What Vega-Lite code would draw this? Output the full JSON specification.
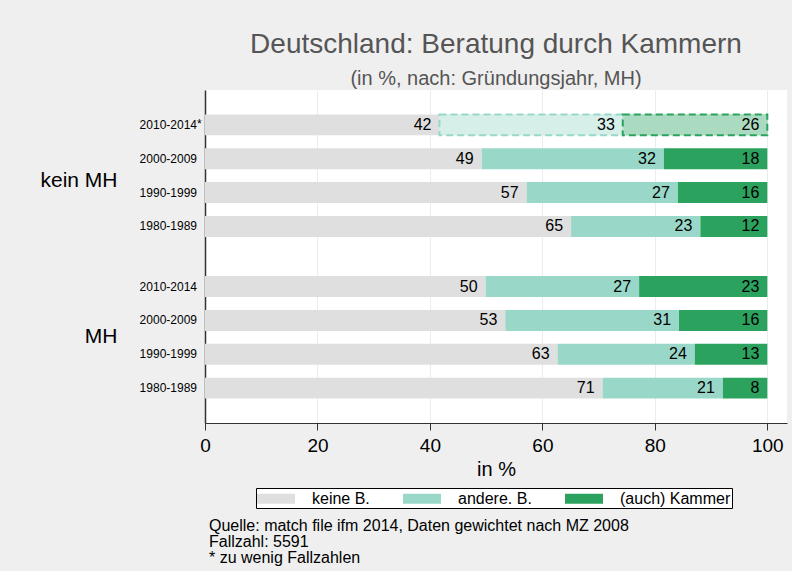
{
  "$schema": "https://vega.github.io/schema/vega-lite/v6.json",
  "background": "#efefef",
  "padding": {"left": 39, "top": 31, "right": 5, "bottom": 5},
  "title": {
    "text": ["Quelle: match file ifm 2014, Daten gewichtet nach MZ 2008", "Fallzahl: 5591", "* zu wenig Fallzahlen"],
    "orient": "bottom",
    "anchor": "start",
    "frame": "group",
    "font": "Liberation Sans",
    "fontSize": 16,
    "fontWeight": "normal",
    "color": "black",
    "lineHeight": 16,
    "offset": 9,
    "dx": 4
  },
  "vconcat": [
    {
      "width": 582,
      "height": 333,
      "title": {
        "text": "Deutschland: Beratung durch Kammern",
        "subtitle": "(in %, nach: Gründungsjahr, MH)",
        "anchor": "middle",
        "font": "Liberation Sans",
        "subtitleFont": "Liberation Sans",
        "fontSize": 28,
        "subtitleFontSize": 20,
        "fontWeight": "normal",
        "color": "#555555",
        "subtitleColor": "#555555",
        "subtitlePadding": 10,
        "offset": 1
      },
      "data": {
        "values": [
          {"group": "kein MH", "period": "2010-2014", "note": "*", "cat": "keine B.", "value": 41.7},
          {"group": "kein MH", "period": "2010-2014", "note": "*", "cat": "andere. B.", "value": 32.6},
          {"group": "kein MH", "period": "2010-2014", "note": "*", "cat": "(auch) Kammer", "value": 25.7},
          {"group": "kein MH", "period": "2000-2009", "note": "", "cat": "keine B.", "value": 49.2},
          {"group": "kein MH", "period": "2000-2009", "note": "", "cat": "andere. B.", "value": 32.4},
          {"group": "kein MH", "period": "2000-2009", "note": "", "cat": "(auch) Kammer", "value": 18.4},
          {"group": "kein MH", "period": "1990-1999", "note": "", "cat": "keine B.", "value": 57.2},
          {"group": "kein MH", "period": "1990-1999", "note": "", "cat": "andere. B.", "value": 26.9},
          {"group": "kein MH", "period": "1990-1999", "note": "", "cat": "(auch) Kammer", "value": 15.9},
          {"group": "kein MH", "period": "1980-1989", "note": "", "cat": "keine B.", "value": 65.1},
          {"group": "kein MH", "period": "1980-1989", "note": "", "cat": "andere. B.", "value": 23.0},
          {"group": "kein MH", "period": "1980-1989", "note": "", "cat": "(auch) Kammer", "value": 11.9},
          {"group": "MH", "period": "2010-2014", "note": "", "cat": "keine B.", "value": 49.9},
          {"group": "MH", "period": "2010-2014", "note": "", "cat": "andere. B.", "value": 27.3},
          {"group": "MH", "period": "2010-2014", "note": "", "cat": "(auch) Kammer", "value": 22.8},
          {"group": "MH", "period": "2000-2009", "note": "", "cat": "keine B.", "value": 53.4},
          {"group": "MH", "period": "2000-2009", "note": "", "cat": "andere. B.", "value": 30.9},
          {"group": "MH", "period": "2000-2009", "note": "", "cat": "(auch) Kammer", "value": 15.7},
          {"group": "MH", "period": "1990-1999", "note": "", "cat": "keine B.", "value": 62.7},
          {"group": "MH", "period": "1990-1999", "note": "", "cat": "andere. B.", "value": 24.4},
          {"group": "MH", "period": "1990-1999", "note": "", "cat": "(auch) Kammer", "value": 12.9},
          {"group": "MH", "period": "1980-1989", "note": "", "cat": "keine B.", "value": 70.7},
          {"group": "MH", "period": "1980-1989", "note": "", "cat": "andere. B.", "value": 21.4},
          {"group": "MH", "period": "1980-1989", "note": "", "cat": "(auch) Kammer", "value": 7.9}
        ]
      },
      "transform": [
        {"stack": "value", "groupby": ["group", "period"], "sort": [{"field": "cat", "order": "descending"}], "as": ["v0", "v1"]}
      ],
      "layer": [
        {
          "mark": {"type": "bar"},
          "encoding": {
            "y": {
              "field": "group", "type": "nominal",
              "scale": {"domain": ["kein MH", "MH"], "paddingInner": 0.163, "paddingOuter": 0.111, "align": 0.5},
              "axis": {
                "title": null, "domain": true, "domainColor": "#333333", "domainWidth": 1.5,
                "ticks": false, "grid": false, "labelFontSize": 21, "labelPadding": 88,
                "labelOffset": {"condition": {"test": "datum.value == 'kein MH'", "value": 5}, "value": 0},
                "labelColor": "black", "labelFont": "Liberation Sans", "labelAngle": 0
              }
            },
            "yOffset": {
              "field": "period", "type": "nominal",
              "scale": {"domain": ["2010-2014", "2000-2009", "1990-1999", "1980-1989"], "paddingInner": 0.38, "paddingOuter": 0.19}
            },
            "x": {
              "field": "v0", "type": "quantitative",
              "scale": {"domain": [0, 103.5], "nice": false},
              "axis": {
                "title": "in %", "values": [0, 20, 40, 60, 80, 100],
                "grid": true, "gridColor": "#e5eef0", "gridWidth": 1,
                "domainColor": "#333333", "domainWidth": 1.2, "tickColor": "#333333", "tickSize": 7,
                "labelFontSize": 19, "labelColor": "black", "labelPadding": 6, "labelFont": "Liberation Sans",
                "titleFontSize": 20, "titleFontWeight": "normal", "titleColor": "black", "titlePadding": 4, "titleFont": "Liberation Sans",
                "labelFlush": false
              }
            },
            "x2": {"field": "v1"},
            "color": {
              "field": "cat", "type": "nominal",
              "scale": {"domain": ["keine B.", "andere. B.", "(auch) Kammer"], "range": ["#dfdfdf", "#99d8c9", "#2ca25f"]},
              "legend": {
                "title": null, "orient": "none", "direction": "horizontal",
                "legendX": 51, "legendY": 398,
                "fillColor": "white", "strokeColor": "black", "padding": 1,
                "symbolType": "M-1,-0.53H3V0.53H-1Z", "symbolSize": 361, "symbolStrokeWidth": 0,
                "labelFontSize": 16, "labelColor": "black", "labelFont": "Liberation Sans", "labelOffset": 36,
                "columnPadding": 33
              }
            }
          }
        },
        {
          "transform": [{"filter": "datum.note == '*' && datum.cat != 'keine B.'"}],
          "mark": {"type": "bar", "fill": "white", "fillOpacity": 0.6, "strokeWidth": 2, "strokeDash": [7, 4]},
          "encoding": {
            "y": {"field": "group", "type": "nominal"},
            "yOffset": {"field": "period", "type": "nominal"},
            "x": {"field": "v0", "type": "quantitative"},
            "x2": {"field": "v1"},
            "stroke": {
              "field": "cat", "type": "nominal",
              "scale": {"domain": ["keine B.", "andere. B.", "(auch) Kammer"], "range": ["#dfdfdf", "#99d8c9", "#2ca25f"]},
              "legend": null
            }
          }
        },
        {
          "mark": {"type": "text", "align": "right", "baseline": "middle", "dx": -8, "fontSize": 16, "font": "Liberation Sans", "color": "black"},
          "encoding": {
            "y": {"field": "group", "type": "nominal"},
            "yOffset": {"field": "period", "type": "nominal"},
            "x": {"field": "v1", "type": "quantitative"},
            "text": {"field": "value", "type": "quantitative", "format": ".0f"}
          }
        },
        {
          "transform": [{"filter": "datum.cat == 'keine B.'"}],
          "mark": {"type": "text", "align": "right", "baseline": "middle", "dx": -8, "fontSize": 12, "font": "Liberation Sans", "color": "black"},
          "encoding": {
            "y": {"field": "group", "type": "nominal"},
            "yOffset": {"field": "period", "type": "nominal"},
            "x": {"datum": 0, "type": "quantitative"},
            "text": {"field": "period", "type": "nominal"}
          }
        },
        {
          "transform": [{"filter": "datum.cat == 'keine B.' && datum.note == '*'"}],
          "mark": {"type": "text", "align": "left", "baseline": "middle", "dx": -8, "dy": -1, "fontSize": 12, "font": "Liberation Sans", "color": "black"},
          "encoding": {
            "y": {"field": "group", "type": "nominal"},
            "yOffset": {"field": "period", "type": "nominal"},
            "x": {"datum": 0, "type": "quantitative"},
            "text": {"field": "note", "type": "nominal"}
          }
        }
      ]
    }
  ],
  "config": {
    "font": "Liberation Sans",
    "view": {"stroke": null, "fill": "white"}
  }
}
